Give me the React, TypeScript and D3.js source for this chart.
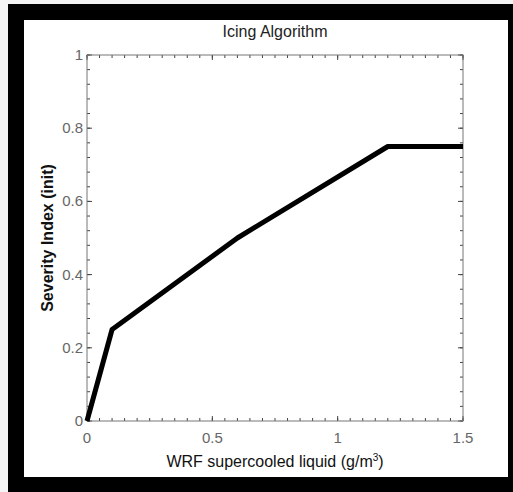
import React from 'react';
import * as d3 from 'd3';

// piecewise severity curve
const lwcValues = [0, 0.1, 0.6, 1.2, 1.5];
const severityValues = [0, 0.25, 0.5, 0.75, 0.75];
const xTicks = [0, 0.5, 1, 1.5];
const yTicks = [0, 0.2, 0.4, 0.6, 0.8, 1];
const xMinor = d3.range(0, 1.5001, 0.05);
const yMinor = d3.range(0, 1.0001, 0.04);

const W = 513, H = 492;
const left = 87, right = 463, top = 55, bottom = 421;

export default function App() {
  const x = d3.scaleLinear().domain([0, 1.5]).range([left, right]);
  const y = d3.scaleLinear().domain([0, 1]).range([bottom, top]);
  const line = d3.line<number>()
    .x((d, i) => x(lwcValues[i]))
    .y(d => y(d));

  const font = 'Liberation Sans, Arial, sans-serif';
  const tickCol = '#444';

  return (
    <div style={{ position: 'absolute', left: 0, top: 0 }}>
      <svg width={W} height={H} style={{ display: 'block' }}>
        <rect x={0} y={0} width={W} height={H} fill="#f4f4f4" />
        <rect x={8} y={4} width={W - 8} height={H - 4} fill="#000" />
        <rect x={24} y={20} width={484} height={457} fill="#fff" />

        <text x={275} y={37} textAnchor="middle" fontFamily={font} fontSize={16} fill="#222">Icing Algorithm</text>

        {/* minor ticks, all four sides, pointing in */}
        <g stroke={tickCol} strokeWidth={1}>
          {xMinor.map((v, i) => (
            <g key={'xm' + i}>
              <line x1={x(v)} x2={x(v)} y1={bottom} y2={bottom - 3} />
              <line x1={x(v)} x2={x(v)} y1={top} y2={top + 3} />
            </g>
          ))}
          {yMinor.map((v, i) => (
            <g key={'ym' + i}>
              <line x1={left} x2={left + 3} y1={y(v)} y2={y(v)} />
              <line x1={right} x2={right - 3} y1={y(v)} y2={y(v)} />
            </g>
          ))}
          {xTicks.map((v, i) => (
            <g key={'xt' + i}>
              <line x1={x(v)} x2={x(v)} y1={bottom} y2={bottom - 5} />
              <line x1={x(v)} x2={x(v)} y1={top} y2={top + 5} />
            </g>
          ))}
          {yTicks.map((v, i) => (
            <g key={'yt' + i}>
              <line x1={left} x2={left + 5} y1={y(v)} y2={y(v)} />
              <line x1={right} x2={right - 5} y1={y(v)} y2={y(v)} />
            </g>
          ))}
        </g>
        <rect x={left} y={top} width={right - left} height={bottom - top} fill="none" stroke="#777" strokeWidth={1} />

        {xTicks.map((v, i) => (
          <text key={'xl' + i} x={x(v)} y={bottom + 22} textAnchor="middle" fontFamily={font} fontSize={15} fill="#666">{v}</text>
        ))}
        {yTicks.map((v, i) => (
          <text key={'yl' + i} x={left - 4} y={y(v) + 5} textAnchor="end" fontFamily={font} fontSize={15} fill="#666">{v}</text>
        ))}

        <path d={line(severityValues) || ''} fill="none" stroke="#000" strokeWidth={5} strokeLinejoin="round" />

        <text x={275} y={467} textAnchor="middle" fontFamily={font} fontSize={16} fill="#111">
          WRF supercooled liquid (g/m<tspan dy={-6} fontSize={10}>3</tspan><tspan dy={6}>)</tspan>
        </text>
        <text transform={`translate(53,${(top + bottom) / 2}) rotate(-90)`} textAnchor="middle" fontFamily={font} fontSize={16} fontWeight={600} fill="#111">
          Severity Index (init)
        </text>
      </svg>
    </div>
  );
}
